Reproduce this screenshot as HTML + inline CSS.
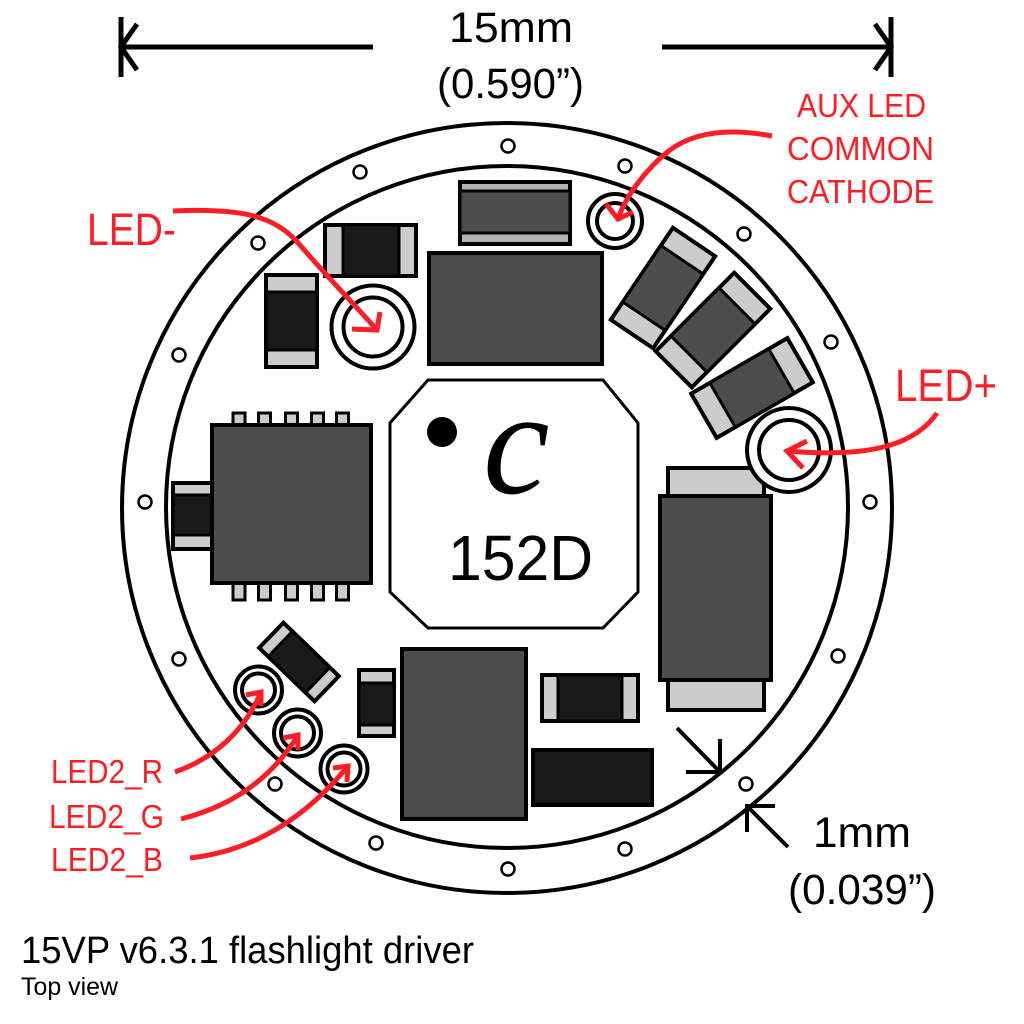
<!DOCTYPE html>
<html>
<head>
<meta charset="utf-8">
<style>
html,body{margin:0;padding:0;background:#fff;}
svg{display:block;}
text{font-family:"Liberation Sans",sans-serif;}
</style>
</head>
<body>
<svg width="1024" height="1024" viewBox="0 0 1024 1024" xmlns="http://www.w3.org/2000/svg">
<rect width="1024" height="1024" fill="#fff"/>

<!-- top dimension -->
<g stroke="#000" stroke-width="5" fill="none">
  <path d="M121,17 V77 M121,47 H373 M137,24 L121,47 L137,70"/>
  <path d="M891,17 V77 M662,47 H891 M875,24 L891,47 L875,70"/>
</g>
<text x="449" y="42" font-size="43" textLength="124" lengthAdjust="spacingAndGlyphs" fill="#000">15mm</text>
<text x="437" y="98" font-size="43" textLength="147" lengthAdjust="spacingAndGlyphs" fill="#000">(0.590”)</text>

<!-- board rings -->
<circle cx="507" cy="508" r="385" fill="none" stroke="#000" stroke-width="4"/>
<circle cx="507" cy="507" r="341" fill="none" stroke="#000" stroke-width="4"/>

<!-- holes -->
<g fill="#fff" stroke="#000" stroke-width="2.5">
  <circle cx="508" cy="146" r="6.5"/>
  <circle cx="360" cy="172" r="6.5"/>
  <circle cx="625" cy="166" r="6.5"/>
  <circle cx="258" cy="243" r="6.5"/>
  <circle cx="744" cy="234" r="6.5"/>
  <circle cx="179" cy="355" r="6.5"/>
  <circle cx="831" cy="342" r="6.5"/>
  <circle cx="145" cy="502" r="6.5"/>
  <circle cx="870" cy="502" r="6.5"/>
  <circle cx="179" cy="659" r="6.5"/>
  <circle cx="838" cy="656" r="6.5"/>
  <circle cx="275" cy="784" r="6.5"/>
  <circle cx="746" cy="784" r="6.5"/>
  <circle cx="376" cy="843" r="6.5"/>
  <circle cx="625" cy="849" r="6.5"/>
  <circle cx="508" cy="869" r="6.5"/>
</g>

<!-- top component -->
<rect x="460" y="182" width="110" height="62" fill="#b3b3b3" stroke="#000" stroke-width="4"/>
<rect x="460" y="191" width="110" height="42" fill="#4d4d4d" stroke="#000" stroke-width="3"/>

<!-- large rect -->
<rect x="429" y="253" width="173" height="111" fill="#4d4d4d" stroke="#000" stroke-width="4"/>

<!-- top-left horizontal cap -->
<rect x="325" y="225" width="91" height="51" fill="#ccc" stroke="#000" stroke-width="4"/>
<rect x="343" y="225" width="56" height="51" fill="#1a1a1a" stroke="#000" stroke-width="3"/>

<!-- vertical cap -->
<rect x="266" y="275" width="51" height="92" fill="#ccc" stroke="#000" stroke-width="4"/>
<rect x="266" y="292" width="51" height="58" fill="#1a1a1a" stroke="#000" stroke-width="3"/>

<!-- rotated caps upper right -->
<g transform="translate(663,288) rotate(34)">
  <rect x="-25.5" y="-55.5" width="51" height="111" fill="#ccc" stroke="#000" stroke-width="4"/>
  <rect x="-25.5" y="-34" width="51" height="68" fill="#4d4d4d" stroke="#000" stroke-width="3"/>
</g>
<g transform="translate(713,330) rotate(45)">
  <rect x="-25.5" y="-55.5" width="51" height="111" fill="#ccc" stroke="#000" stroke-width="4"/>
  <rect x="-25.5" y="-34" width="51" height="68" fill="#4d4d4d" stroke="#000" stroke-width="3"/>
</g>
<g transform="translate(752,388) rotate(60)">
  <rect x="-25.5" y="-55.5" width="51" height="111" fill="#ccc" stroke="#000" stroke-width="4"/>
  <rect x="-25.5" y="-34" width="51" height="68" fill="#4d4d4d" stroke="#000" stroke-width="3"/>
</g>

<!-- left IC pins -->
<g fill="#ccc" stroke="#000" stroke-width="3">
  <rect x="233" y="413" width="12" height="14"/>
  <rect x="258.5" y="413" width="12" height="14"/>
  <rect x="285.5" y="413" width="12" height="14"/>
  <rect x="311.5" y="413" width="12" height="14"/>
  <rect x="336.5" y="413" width="12" height="14"/>
  <rect x="233" y="581" width="12" height="19"/>
  <rect x="258.5" y="581" width="12" height="19"/>
  <rect x="285.5" y="581" width="12" height="19"/>
  <rect x="311.5" y="581" width="12" height="19"/>
  <rect x="336.5" y="581" width="12" height="19"/>
</g>
<!-- left small cap -->
<rect x="173" y="483" width="40" height="66" fill="#ccc" stroke="#000" stroke-width="4"/>
<rect x="173" y="495" width="40" height="40" fill="#1a1a1a" stroke="#000" stroke-width="3"/>
<!-- IC body -->
<rect x="212" y="425" width="159" height="158" fill="#4d4d4d" stroke="#000" stroke-width="4"/>

<!-- center octagon -->
<polygon points="428,380 603,380 638,423 638,592 603,628 428,628 390,592 390,423" fill="#fff" stroke="#000" stroke-width="3"/>
<circle cx="442" cy="432" r="15" fill="#000"/>
<text x="483" y="493" font-size="150" font-family="Liberation Serif, serif" font-style="italic" fill="#000" style="font-family:'Liberation Serif',serif">c</text>
<text x="448" y="580" font-size="64" textLength="145" lengthAdjust="spacingAndGlyphs" fill="#000">152D</text>

<!-- big right component -->
<rect x="668" y="468" width="96" height="30" fill="#ccc" stroke="#000" stroke-width="4"/>
<rect x="668" y="678" width="96" height="32" fill="#ccc" stroke="#000" stroke-width="4"/>
<rect x="660" y="496" width="111" height="184" fill="#4d4d4d" stroke="#000" stroke-width="4"/>

<!-- bottom components -->
<rect x="402" y="649" width="124" height="170" fill="#4d4d4d" stroke="#000" stroke-width="4"/>
<rect x="359" y="670" width="35" height="66" fill="#ccc" stroke="#000" stroke-width="4"/>
<rect x="359" y="683" width="35" height="42" fill="#1a1a1a" stroke="#000" stroke-width="3"/>
<rect x="542" y="675" width="96" height="46" fill="#ccc" stroke="#000" stroke-width="4"/>
<rect x="558" y="675" width="64" height="46" fill="#1a1a1a" stroke="#000" stroke-width="3"/>
<rect x="533" y="750" width="119" height="55" fill="#1a1a1a" stroke="#000" stroke-width="4"/>
<g transform="translate(299,662) rotate(44)">
  <rect x="-38.5" y="-17.5" width="77" height="35" fill="#ccc" stroke="#000" stroke-width="4"/>
  <rect x="-26" y="-17.5" width="52" height="35" fill="#1a1a1a" stroke="#000" stroke-width="3"/>
</g>

<!-- pads -->
<g fill="#fff" stroke="#000" stroke-width="4">
  <circle cx="373" cy="327" r="41.5"/>
  <circle cx="373" cy="327" r="29.5"/>
  <circle cx="615" cy="221" r="27"/>
  <circle cx="615" cy="221" r="18"/>
  <circle cx="789" cy="450" r="42"/>
  <circle cx="789" cy="450" r="30"/>
  <circle cx="258.5" cy="690" r="23.5"/>
  <circle cx="258.5" cy="690" r="16.5"/>
  <circle cx="297.5" cy="733" r="23.5"/>
  <circle cx="297.5" cy="733" r="16.5"/>
  <circle cx="344" cy="769" r="23.5"/>
  <circle cx="344" cy="769" r="16.5"/>
</g>

<!-- 1mm dimension -->
<g stroke="#000" stroke-width="4" fill="none">
  <path d="M677,728 L720,772 M720,739 V772 H686"/>
  <path d="M788,847 L747,806 M747,832 V806 H775"/>
</g>
<text x="813" y="847" font-size="43" textLength="98" lengthAdjust="spacingAndGlyphs" fill="#000">1mm</text>
<text x="788" y="904" font-size="43" textLength="148" lengthAdjust="spacingAndGlyphs" fill="#000">(0.039”)</text>

<!-- red annotations -->
<g stroke="#ff1d25" stroke-width="5" fill="none" stroke-linejoin="miter" stroke-linecap="butt">
  <path d="M173,211 C240,208 275,215 300,245 C330,280 355,305 377,330"/>
  <path d="M352,329 L377,330 L380,312"/>
  <path d="M772,136 C740,130 700,128 670,150 C642,172 626,198 618,218"/>
  <path d="M606,204 L618,219 L633,212"/>
  <path d="M937,413 C915,445 870,458 787,451"/>
  <path d="M807,441 L787,451 L803,468"/>
  <path d="M175,772 C215,758 245,730 261,692"/>
  <path d="M246,695 L261,692 L261,706"/>
  <path d="M181,819 C232,806 272,778 298,735"/>
  <path d="M283,738 L298,735 L298,750"/>
  <path d="M190,858 C262,850 312,810 348,766"/>
  <path d="M333,768 L348,766 L347,782"/>
</g>
<g fill="#ff1d25">
  <text x="87" y="245" font-size="45" textLength="89" lengthAdjust="spacingAndGlyphs">LED-</text>
  <text x="895" y="401" font-size="45" textLength="102" lengthAdjust="spacingAndGlyphs">LED+</text>
  <text x="797" y="117" font-size="33" textLength="129" lengthAdjust="spacingAndGlyphs">AUX LED</text>
  <text x="787" y="160" font-size="33" textLength="147" lengthAdjust="spacingAndGlyphs">COMMON</text>
  <text x="787" y="203" font-size="33" textLength="147" lengthAdjust="spacingAndGlyphs">CATHODE</text>
  <text x="51" y="783" font-size="33" textLength="112" lengthAdjust="spacingAndGlyphs">LED2_R</text>
  <text x="49" y="828" font-size="33" textLength="115" lengthAdjust="spacingAndGlyphs">LED2_G</text>
  <text x="51" y="871" font-size="33" textLength="112" lengthAdjust="spacingAndGlyphs">LED2_B</text>
</g>

<!-- caption -->
<text x="21" y="963" font-size="38" textLength="453" lengthAdjust="spacingAndGlyphs" fill="#000">15VP v6.3.1 flashlight driver</text>
<text x="21" y="995" font-size="25" textLength="97" lengthAdjust="spacingAndGlyphs" fill="#000">Top view</text>
</svg>
</body>
</html>
